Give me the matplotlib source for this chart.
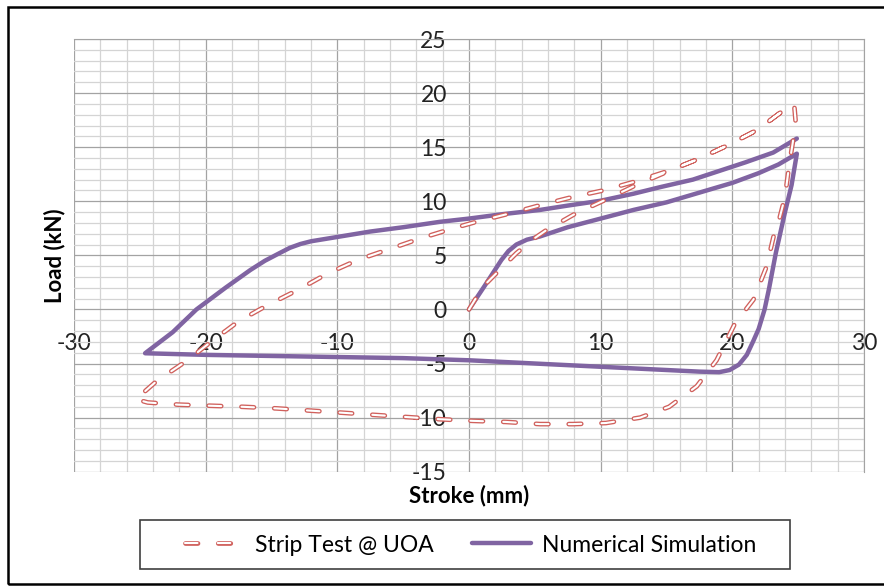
import numpy as np
import matplotlib.pyplot as plt
from matplotlib.lines import Line2D
from matplotlib.patches import Rectangle

plt.rcParams['font.family'] = ['Lato', 'DejaVu Sans']
plt.rcParams['lines.scale_dashes'] = False
plt.rcParams['axes.unicode_minus'] = False

# ---------- data ----------
# Strip Test @ UOA: loading from origin, unloading, reverse, reloading
strip_x = [0, 1.06, 2.08, 3.6, 5.0, 5.9, 8.0, 10.3, 12.7, 15.0,
           17.3, 19.7, 21.9, 24.1, 24.7,
           24.8, 24.6, 24.3, 24.0, 23.6, 23.2, 22.6, 21.6, 20.2, 18.8,
           17.3, 15.2, 13.0, 10.4, 7.9, 5.4, 2.8, 0.3, -2.2, -7.2,
           -9.6, -12.1, -14.6, -17.2, -19.7, -22.1, -24.4, -25.3,
           -23.7, -21.5, -19.5, -17.5, -15.3, -13.0, -10.7, -8.4, -6.0,
           -3.6, -1.2, 0.56, 3.34, 5.6, 7.9, 10.2, 12.7, 15.0,
           17.3, 19.7, 21.9, 24.1, 24.7]
strip_y = [0, 2.1, 3.35, 5.2, 6.6, 7.35, 8.8, 10.1, 11.5, 12.7,
           13.85, 15.2, 16.6, 18.6, 18.9,
           17.5, 15.5, 13.2, 10.4, 8.5, 7.1, 3.96, 0.9, -1.3, -4.7,
           -7.1, -9.0, -10.0, -10.5, -10.6, -10.6, -10.4, -10.3, -10.15, -9.75,
           -9.55, -9.35, -9.15, -9.0, -8.9, -8.8, -8.6, -8.3,
           -6.6, -4.8, -2.9, -1.1, 0.4, 1.8, 3.35, 4.6, 5.6,
           6.6, 7.5, 8.1, 8.95, 9.7, 10.4, 11.0, 11.85, 12.75,
           13.85, 15.2, 16.6, 18.6, 18.9]

# Numerical Simulation
sim_x = [0, 1.2, 2.46, 3.0, 3.6, 4.4, 5.4, 7.5, 10.0, 12.5, 15.0, 17.5,
         20.0, 22.0, 23.5, 24.9,
         24.5, 24.0, 23.3, 22.8, 22.45, 22.0, 21.6, 21.1, 20.5, 19.8,
         19.0, 17.5, 15.0, 10.0, 5.0, 0.0, -5.0, -10.0, -15.0, -20.0, -24.6,
         -22.5, -20.7, -18.5, -16.6, -15.5, -14.4, -13.6, -12.8, -12.0,
         -11.0, -10.0, -7.5, -5.0, -2.2, 0.0, 2.5, 5.4, 7.5, 10.0, 12.5,
         14.5, 17.0, 19.0, 21.0, 23.1, 24.9]
sim_y = [0, 2.2, 4.57, 5.4, 6.0, 6.45, 6.75, 7.6, 8.4, 9.2, 9.9, 10.8,
         11.7, 12.6, 13.4, 14.4,
         11.5, 9.0, 5.2, 2.0, 0.0, -1.8, -2.9, -4.2, -5.1, -5.6,
         -5.8, -5.75, -5.6, -5.3, -5.0, -4.7, -4.5, -4.4, -4.3, -4.2, -4.05,
         -2.1, 0.0, 2.0, 3.65, 4.5, 5.2, 5.7, 6.05, 6.3,
         6.5, 6.7, 7.2, 7.6, 8.1, 8.4, 8.8, 9.2, 9.6, 10.05, 10.7,
         11.3, 12.0, 12.8, 13.6, 14.5, 15.8]

x_ticks = [-30, -20, -10, 0, 10, 20, 30]
y_ticks = [-15, -10, -5, 0, 5, 10, 15, 20, 25]

RED = '#D0605C'
PURPLE = '#8064A2'
DASH = (0, (9.0, 14.6))
W, H = 884, 586

fig = plt.figure(figsize=(W / 100, H / 100), dpi=100)
ax = fig.add_axes([74 / W, 1 - 471.7 / H, 790 / W, 432.7 / H])

ax.plot(sim_x, sim_y, color=PURPLE, lw=3.2, solid_capstyle='round',
        solid_joinstyle='round', zorder=3)
ax.plot(strip_x, strip_y, color=RED, lw=3.4, ls=DASH,
        dash_capstyle='round', zorder=4)
ax.plot(strip_x, strip_y, color='white', lw=1.5, ls=DASH,
        dash_capstyle='round', zorder=5)

ax.set_xlim(-30, 30)
ax.set_ylim(-15, 25)
ax.set_xticks(x_ticks)
ax.set_yticks(y_ticks)
ax.set_xticks(np.arange(-30, 31, 2), minor=True)
ax.set_yticks(np.arange(-15, 26, 1), minor=True)
ax.grid(which='minor', color='#D4D4D4', lw=0.9)
ax.grid(which='major', color='#A3A3A3', lw=0.9)
ax.set_axisbelow(True)

# axes cross at the origin, Excel style
ax.spines['left'].set_position(('data', 0))
ax.spines['bottom'].set_position(('data', 0))
ax.spines['left'].set_color('none')
ax.spines['bottom'].set_color('none')
for s in ['top', 'right']:
    ax.spines[s].set_color('#A3A3A3')
ax.tick_params(which='both', length=0, labelsize=16.5, colors='#222222')
ax.tick_params(axis='x', pad=17)
ax.tick_params(axis='y', pad=16)

fig.text(469 / W, 1 - 496 / H, 'Stroke (mm)', ha='center', va='center',
         fontsize=16, fontweight='bold')
fig.text(55 / W, 1 - 255.6 / H, 'Load (kN)', ha='center', va='center',
         rotation=90, fontsize=16, fontweight='bold')

# ---------- legend box ----------
fig.add_artist(Rectangle((139.5 / W, 1 - 568.5 / H), (790 - 139.5) / W,
                         48.5 / H, transform=fig.transFigure, fill=False,
                         ec='#404040', lw=1.2))
ly = 1 - 543 / H
fig.add_artist(Line2D([185 / W, 232 / W], [ly, ly], transform=fig.transFigure,
                      color=RED, lw=3.4, ls=DASH, dash_capstyle='round'))
fig.add_artist(Line2D([185 / W, 232 / W], [ly, ly], transform=fig.transFigure,
                      color='white', lw=1.5, ls=DASH, dash_capstyle='round'))
fig.add_artist(Line2D([472 / W, 531 / W], [ly, ly], transform=fig.transFigure,
                      color=PURPLE, lw=3.2, solid_capstyle='round'))
fig.text(255 / W, 1 - 551.5 / H, 'Strip Test @ UOA', ha='left',
         va='baseline', fontsize=16.5)
fig.text(541.7 / W, 1 - 551.5 / H, 'Numerical Simulation', ha='left',
         va='baseline', fontsize=16.5)

# outer chart frame (right side runs off the image)
fig.add_artist(Rectangle((8 / W, 1 - 583.5 / H), 2, 576.5 / H,
                         transform=fig.transFigure, fill=False, ec='black',
                         lw=1.8))

fig.savefig('out.png', dpi=100)
